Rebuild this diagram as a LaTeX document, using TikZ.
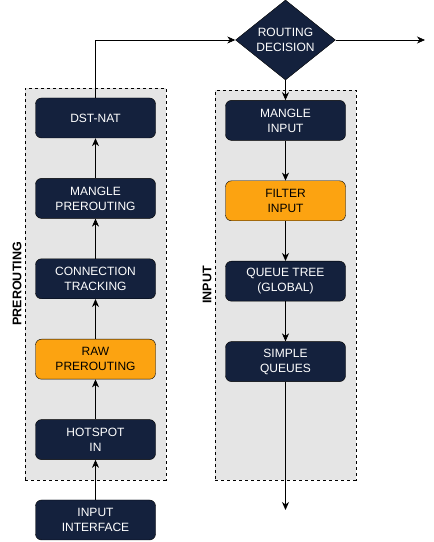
\documentclass[tikz,border=0pt]{standalone}
\usepackage{fontspec}
\setmainfont{Liberation Sans}
\usepackage{tikz}
\usetikzlibrary{arrows.meta,positioning,shapes.geometric,calc,fit,backgrounds}

\definecolor{navy}{HTML}{14213D}
\definecolor{amber}{HTML}{FCA311}
\definecolor{paleGray}{HTML}{E5E5E5}

\begin{document}
\begin{tikzpicture}[
  x=1pt, y=1pt,
  node distance=40pt,
  stage/.style={
    draw=black, fill=navy, text=white, rounded corners=6pt,
    minimum width=120pt, minimum height=40pt, align=center,
    inner sep=2pt, font=\fontsize{12}{15}\selectfont
  },
  hot/.style={stage, fill=amber, text=black},
  decision/.style={
    diamond, draw=black, fill=navy, text=white, aspect=1.25,
    minimum width=100pt, minimum height=80pt, inner sep=0pt,
    align=center, font=\fontsize{12}{15}\selectfont
  },
  chainbox/.style={draw, dashed, fill=paleGray, inner sep=10pt},
  chainlabel/.style={rotate=90, anchor=south, inner sep=3.5pt,
    font=\fontsize{12.5}{15}\selectfont\bfseries},
  arrow/.style={-{Stealth[length=8pt,width=7pt,inset=2.5pt]}, line width=0.7pt}
]
\useasboundingbox (0,0) rectangle (434,542);

% prerouting chain (bottom to top)
\node[stage] (iface) at (95.5,22) {INPUT\\INTERFACE};
\node[stage, above=of iface] (hotspot) {HOTSPOT\\IN};
\node[hot, above=of hotspot] (rawpre) {RAW\\PREROUTING};
\node[stage, above=of rawpre] (conntrack) {CONNECTION\\TRACKING};
\node[stage, above=of conntrack] (manglepre) {MANGLE\\PREROUTING};
\node[stage, above=of manglepre] (dstnat) {DST-NAT};

% routing decision and input chain
\node[decision] (routing) at (285.5,502) {ROUTING\\DECISION};
\node[stage, below=20pt of routing] (manglein) {MANGLE\\INPUT};
\node[hot, below=of manglein] (filterin) {FILTER\\INPUT};
\node[stage, below=of filterin] (queuetree) {QUEUE TREE\\(GLOBAL)};
\node[stage, below=of queuetree] (simpleq) {SIMPLE\\QUEUES};

\coordinate (prebot) at ($(hotspot.south)+(0,-10)$);
\coordinate (inbot) at (manglein |- prebot);
\coordinate (exit) at (425,502);
\coordinate (local) at (simpleq |- 0,32);

\begin{scope}[on background layer]
  \node[chainbox, fit=(dstnat) (hotspot) (prebot)] (prebox) {};
  \node[chainbox, fit=(manglein) (simpleq) (inbot)] (inbox) {};
\end{scope}

\node[chainlabel] at (prebox.west) {PREROUTING};
\node[chainlabel] at (inbox.west) {INPUT};

\draw[arrow] (iface) -- (hotspot);
\draw[arrow] (hotspot) -- (rawpre);
\draw[arrow] (rawpre) -- (conntrack);
\draw[arrow] (conntrack) -- (manglepre);
\draw[arrow] (manglepre) -- (dstnat);
\draw[arrow] (dstnat.north) |- (routing.west);
\draw[arrow] (routing.east) -- (exit);
\draw[arrow] (routing.south) -- (manglein);
\draw[arrow] (manglein) -- (filterin);
\draw[arrow] (filterin) -- (queuetree);
\draw[arrow] (queuetree) -- (simpleq);
\draw[arrow] (simpleq) -- (local);

\end{tikzpicture}
\end{document}
